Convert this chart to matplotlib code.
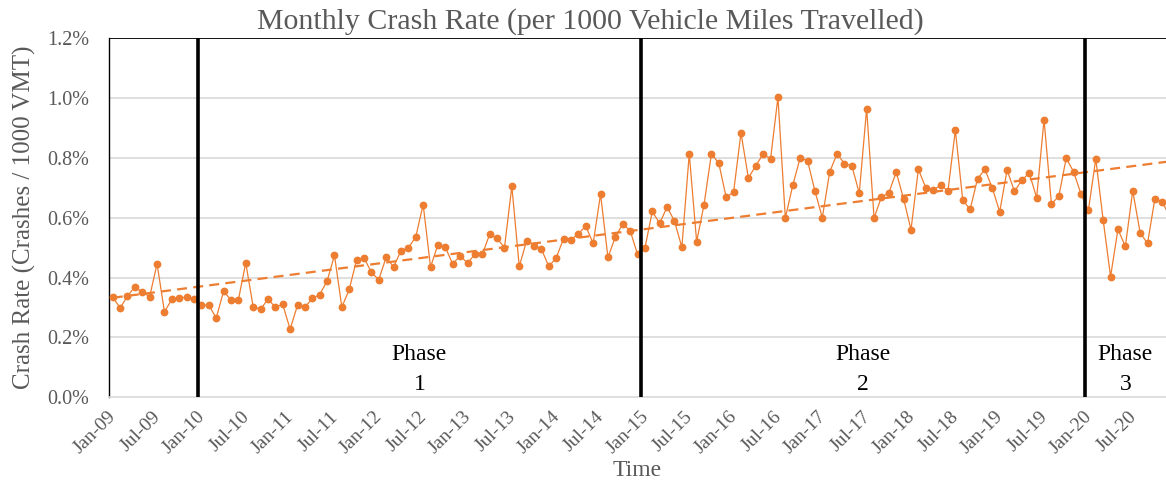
import numpy as np
import matplotlib
matplotlib.use("Agg")
import matplotlib.pyplot as plt
import matplotlib.transforms as mtransforms
from matplotlib.ticker import FuncFormatter

# crash rate per 1000 VMT (%), monthly Jan-09 .. Dec-20
rate_2009 = [0.335, 0.298, 0.338, 0.369, 0.351, 0.336, 0.446, 0.285, 0.327, 0.331, 0.335, 0.329]
rate_2010 = [0.307, 0.308, 0.264, 0.354, 0.325, 0.325, 0.449, 0.302, 0.294, 0.327, 0.301, 0.310]
rate_2011 = [0.227, 0.307, 0.300, 0.330, 0.343, 0.388, 0.474, 0.301, 0.360, 0.460, 0.466, 0.417]
rate_2012 = [0.393, 0.468, 0.435, 0.490, 0.499, 0.536, 0.644, 0.435, 0.510, 0.501, 0.445, 0.473]
rate_2013 = [0.448, 0.478, 0.477, 0.545, 0.531, 0.500, 0.705, 0.437, 0.523, 0.507, 0.495, 0.437]
rate_2014 = [0.466, 0.530, 0.525, 0.547, 0.572, 0.514, 0.679, 0.467, 0.536, 0.579, 0.557, 0.478]
rate_2015 = [0.498, 0.621, 0.581, 0.636, 0.589, 0.501, 0.814, 0.520, 0.644, 0.814, 0.782, 0.668]
rate_2016 = [0.686, 0.884, 0.733, 0.774, 0.813, 0.797, 1.003, 0.599, 0.708, 0.800, 0.791, 0.690]
rate_2017 = [0.600, 0.753, 0.814, 0.781, 0.774, 0.682, 0.965, 0.599, 0.669, 0.683, 0.753, 0.663]
rate_2018 = [0.560, 0.762, 0.700, 0.692, 0.709, 0.690, 0.893, 0.659, 0.628, 0.730, 0.762, 0.699]
rate_2019 = [0.620, 0.760, 0.688, 0.726, 0.749, 0.667, 0.928, 0.646, 0.672, 0.799, 0.754, 0.679]
rate_2020 = [0.625, 0.797, 0.592, 0.403, 0.561, 0.504, 0.690, 0.550, 0.514, 0.664, 0.653, 0.604]

years = list(range(2009, 2021))
month_names = ["Jan", "Jul"]
phase_starts = ["Jan-10", "Jan-15", "Jan-20"]
phase_names = ["Phase\n1", "Phase\n2", "Phase\n3"]

rates = np.array(rate_2009 + rate_2010 + rate_2011 + rate_2012 + rate_2013 + rate_2014
                 + rate_2015 + rate_2016 + rate_2017 + rate_2018 + rate_2019 + rate_2020)
months = [f"{m}-{str(y)[2:]}" for y in years
          for m in ["Jan", "Feb", "Mar", "Apr", "May", "Jun", "Jul", "Aug", "Sep", "Oct", "Nov", "Dec"]]
x = np.arange(len(rates))

ORANGE = "#ED7D31"
GREY_TXT = "#595959"
GRID = "#D9D9D9"

plt.rcParams["font.family"] = ["Liberation Serif", "DejaVu Serif"]

fig = plt.figure(figsize=(11.66, 4.86), dpi=100)
ax = fig.add_axes([0.0935, 0.183, 0.9065, 0.738])

xmax = 142.5
ax.set_xlim(-0.5, xmax)
ax.set_ylim(0, 1.2)

# gridlines
for v in np.arange(0.2, 1.2, 0.2):
    ax.axhline(v, color=GRID, lw=1.2, zorder=0)

ax.plot(x, rates, color=ORANGE, lw=0.9, marker="o", ms=4.6, zorder=3)

# linear trendline (least squares, like Excel)
k, b = np.polyfit(x, rates, 1)
xt = np.array([0, len(rates) - 1])
ax.plot(xt, k * xt + b, color=ORANGE, lw=1.6, ls=(0, (4.5, 2.8)), zorder=2)

# phase dividers
idx = [months.index(p) - 0.5 for p in phase_starts]
for xi in idx:
    ax.axvline(xi, color="black", lw=2.6, zorder=4)
ax.axhline(1.2, color="black", lw=1.3, zorder=4)

bounds = idx + [xmax]
for name, lo, hi in zip(phase_names, bounds[:-1], bounds[1:]):
    ax.text((lo + hi) / 2, 0.093, name, ha="center", va="center",
            fontsize=17, color="black", linespacing=1.55)

# axes styling
for s in ["top", "right"]:
    ax.spines[s].set_visible(False)
ax.spines["left"].set_color("black")
ax.spines["left"].set_linewidth(1.0)
ax.spines["bottom"].set_color(GRID)
ax.spines["bottom"].set_linewidth(1.2)

tick_pos = [i for i, m in enumerate(months) if m[:3] in month_names]
ax.set_xticks(tick_pos)
ax.set_xticklabels([months[i] for i in tick_pos], rotation=45, ha="right",
                   rotation_mode="anchor", fontsize=14, color=GREY_TXT)
ax.tick_params(axis="x", length=0, pad=8)
shift = mtransforms.ScaledTranslation(-5 / 100, 0, fig.dpi_scale_trans)
for lbl in ax.get_xticklabels():
    lbl.set_transform(lbl.get_transform() + shift)
ax.set_yticks(np.arange(0, 1.21, 0.2))
ax.yaxis.set_major_formatter(FuncFormatter(lambda v, _: f"{v:.1f}%"))
ax.tick_params(axis="y", length=0, labelsize=14.5, labelcolor=GREY_TXT, pad=14)

ax.set_ylabel("Crash Rate (Crashes / 1000 VMT)", fontsize=18, color=GREY_TXT, labelpad=8)
ax.set_xlabel("Time", fontsize=17, color=GREY_TXT, labelpad=2)
fig.text(0.506, 0.955, "Monthly Crash Rate (per 1000 Vehicle Miles Travelled)",
         ha="center", va="center", fontsize=21.5, color=GREY_TXT)

fig.savefig("out.png", dpi=100)
